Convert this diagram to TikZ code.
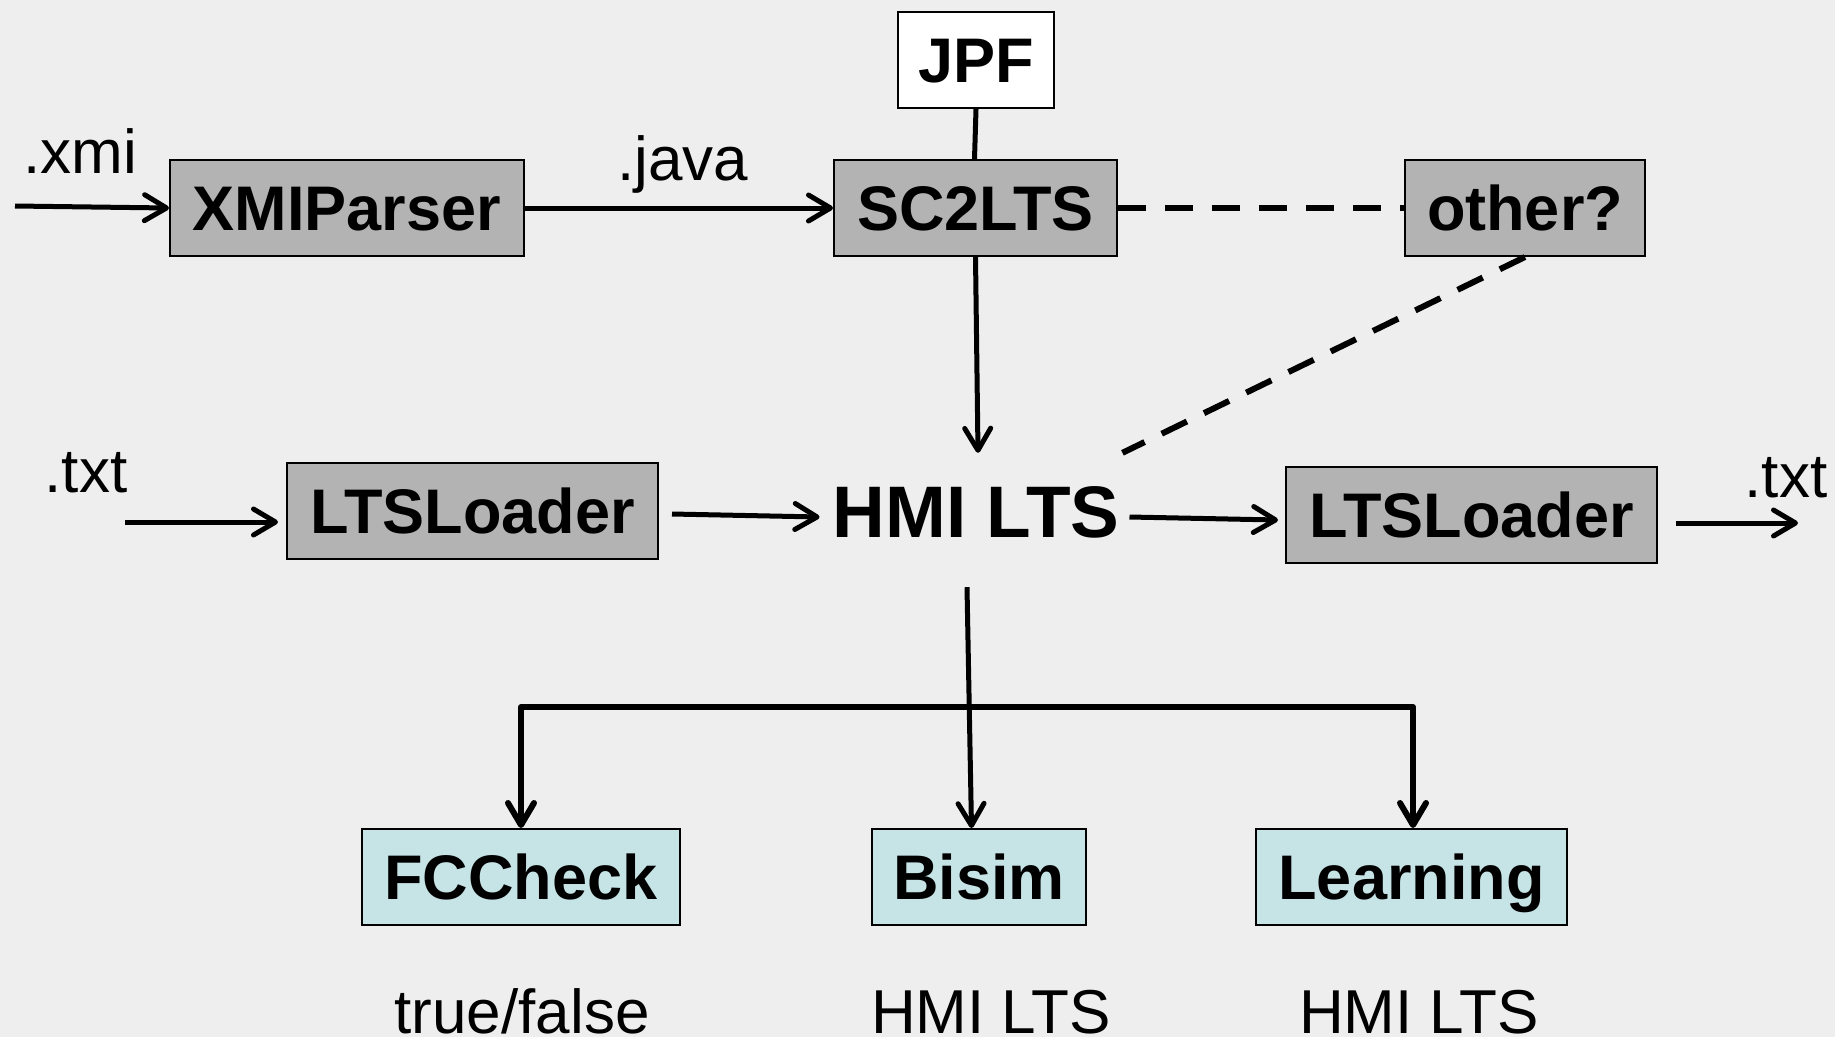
\documentclass[tikz,border=0pt]{standalone}
\usepackage{fontspec}
\setmainfont{Liberation Sans}
\usetikzlibrary{arrows.meta}

\definecolor{bg}{HTML}{EEEEEE}
\definecolor{toolgray}{HTML}{B3B3B3}
\definecolor{toolcyan}{HTML}{C6E3E6}

\newcommand\boxfont{\fontsize{63}{70}\selectfont\bfseries}
\newcommand\labelfont{\fontsize{62}{70}\selectfont}
\newcommand\hmifont{\fontsize{73}{80}\selectfont\bfseries}

\begin{document}
\begin{tikzpicture}[x=1pt,y=-1pt,
  box/.style={draw, line width=2pt, inner sep=0pt, minimum height=96pt,
              text height=45pt, text depth=0pt, font=\boxfont},
  graybox/.style={box, fill=toolgray},
  cyanbox/.style={box, fill=toolcyan},
  whitebox/.style={box, fill=white},
  lbl/.style={anchor=base, inner sep=0pt, font=\labelfont},
  flow/.style={line width=5pt, line join=round,
               -{Straight Barb[length=22pt,width=26pt,round]}},
  fork/.style={flow, line width=6pt},
  link/.style={line width=5pt},
  alt/.style={line width=6pt, dash pattern=on 28pt off 19pt},
]
% canvas
\useasboundingbox (0,0) rectangle (1835,1037);
\fill[bg] (0,0) rectangle (1835,1037);

% tool boxes
\node[whitebox, minimum width=156pt] (jpf)   at (976,60)    {JPF};
\node[graybox,  minimum width=354pt] (xmi)   at (347,208)   {XMIParser};
\node[graybox,  minimum width=283pt] (sc)    at (975.5,208) {SC2LTS};
\node[graybox,  minimum width=240pt] (other) at (1525,208)  {other?};
\node[graybox,  minimum width=371pt] (ldin)  at (472.5,511) {LTSLoader};
\node[graybox,  minimum width=371pt] (ldout) at (1471.5,515){LTSLoader};
\node[cyanbox,  minimum width=318pt] (fc)    at (521,877)   {FCCheck};
\node[cyanbox,  minimum width=214pt] (bis)   at (979,877)   {Bisim};
\node[cyanbox,  minimum width=311pt] (learn) at (1411.5,877){Learning};

% central model
\node[inner sep=0pt, text height=52pt, text depth=0pt, font=\hmifont]
  (hmi) at (976,511) {HMI LTS};

% file labels and results
\node[lbl] (lxmi)   at (80.5,173) {.xmi};
\node[lbl] (ljava)  at (683,180)  {.java};
\node[lbl] (ltxtin) at (86,492)   {.txt};
\node[lbl] (ltxtout) at (1786,497) {.txt};
\node[lbl] (rfc)    at (522,1033) {true/false};
\node[lbl] (rbis)   at (991,1033) {HMI LTS};
\node[lbl] (rlearn) at (1419,1033) {HMI LTS};

% free ends
\coordinate (xmiin) at (15,206);
\coordinate (txtin) at (125,522);
\coordinate (txtout) at (1798,523);

% top row
\draw[flow] (xmiin) -- (xmi.west);
\draw[flow] (xmi.east) -- (sc.west);
\draw[link] (jpf.south) -- ([xshift=-1pt]sc.north);
\draw[alt] (sc.east) -- (other.west);

% into and out of the model
\draw[flow] (sc.south) -- ([xshift=2pt,yshift=32pt]hmi.north);
\draw[alt] (other.south) -- ([xshift=3pt,yshift=32pt]hmi.north east);
\draw[flow] (txtin) -- ([xshift=-8pt,yshift=-11pt]ldin.west);
\draw[flow] ([xshift=13pt,yshift=-3pt]ldin.east) -- ([xshift=-13pt,yshift=-6pt]hmi.west);
\draw[flow] ([xshift=10pt,yshift=-6pt]hmi.east) -- ([xshift=-7pt,yshift=-5pt]ldout.west);
\draw[flow] ([xshift=18pt,yshift=-8pt]ldout.east) -- (txtout);

% analyses
\draw[flow] ([xshift=-9pt,yshift=-50pt]hmi.south) -- ([xshift=-7.5pt]bis.north);
\coordinate (split) at (969,707);
\draw[fork] (split) -| (fc.north);
\draw[fork] (split) -| ([xshift=1.5pt]learn.north);
\end{tikzpicture}
\end{document}
